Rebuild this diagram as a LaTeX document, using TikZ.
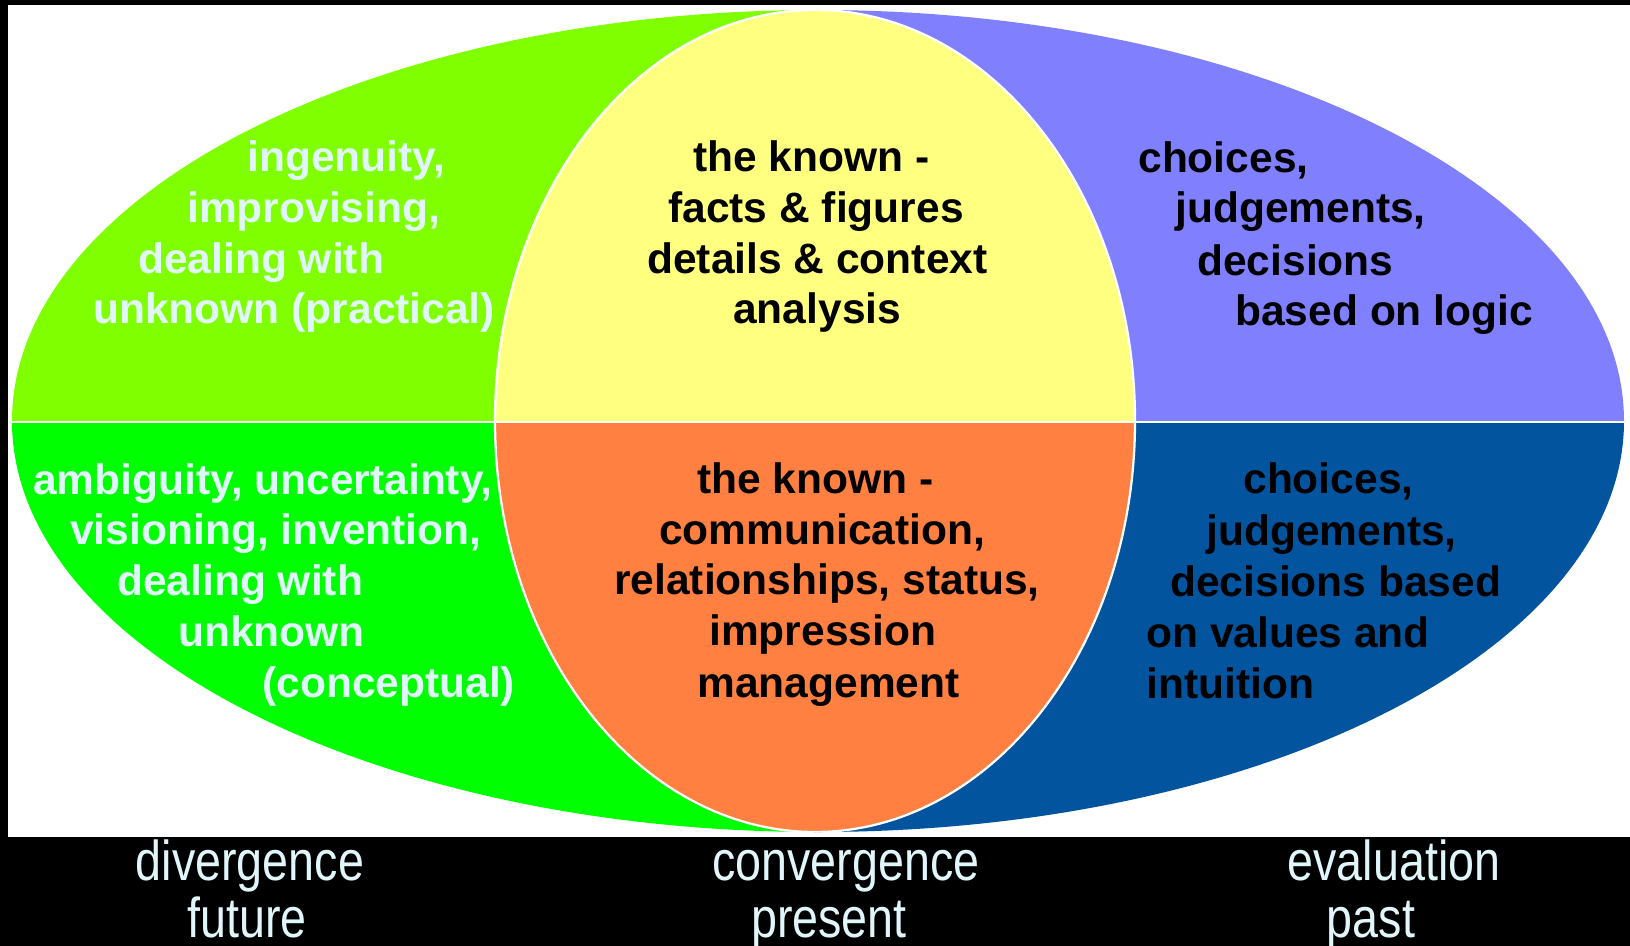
\documentclass[tikz,border=0pt]{standalone}
\usepackage{fontspec}
\setmainfont{Liberation Sans}
\newfontfamily\labelfont[FakeStretch=0.83]{Liberation Sans}
\usepackage{tikz}

\definecolor{futuretop}{RGB}{128,255,0}
\definecolor{futurebot}{RGB}{0,255,0}
\definecolor{presenttop}{RGB}{255,255,128}
\definecolor{presentbot}{RGB}{255,128,64}
\definecolor{pasttop}{RGB}{128,128,255}
\definecolor{pastbot}{RGB}{2,84,158}
\definecolor{paletext}{RGB}{224,246,250}

\def\blocktext{\bfseries\fontsize{24.2pt}{28pt}\selectfont}

\begin{document}
\begin{tikzpicture}[x=0.02cm, y=-0.02cm,
		paleline/.style={anchor=base west, inner sep=0pt, text=paletext, font=\blocktext},
		darkline/.style={paleline, text=black},
		timeline/.style={anchor=base, inner sep=0pt, text=paletext, font=\labelfont\fontsize{32pt}{36pt}\selectfont},
		divider/.style={draw=white, line width=1.3pt}]
			%%%%% START %%%%%
			\useasboundingbox (0,0) rectangle (1630,946);
			\fill[black] (0,0) rectangle (1630,946);
			\fill[white] (8,5) rectangle (1630,837);
			
			\begin{scope}
				\clip (818,421) ellipse [x radius=806, y radius=411];
				\fill[futuretop] (0,0) rectangle (818,422);
				\fill[futurebot] (0,422) rectangle (818,840);
				\fill[pasttop] (818,0) rectangle (1630,422);
				\fill[pastbot] (818,422) rectangle (1630,840);
				\begin{scope}
					\clip (815,421) ellipse [x radius=320, y radius=411];
					\fill[presenttop] (0,0) rectangle (1630,422);
					\fill[presentbot] (0,422) rectangle (1630,840);
				\end{scope}
				\draw[divider] (815,421) ellipse [x radius=320, y radius=411];
				\draw[divider] (0,422) -- (1630,422);
			\end{scope}
			
			% future, top and bottom
			\foreach \px/\py/\txt [count=\i] in {247/172/{ingenuity,}, 187/222/{improvising,}, 138/273/{dealing with}, 93/323/{unknown (practical)}}
				\node[paleline] (ftop\i) at (\px,\py) {\txt};
			\foreach \px/\py/\txt [count=\i] in {33/494/{ambiguity, uncertainty,}, 70/544/{visioning, invention,}, 117/595/{dealing with}, 178/646/{unknown}, 262/697/{(conceptual)}}
				\node[paleline] (fbot\i) at (\px,\py) {\txt};
			
			% present, top and bottom
			\foreach \px/\py/\txt [count=\i] in {693/172/{the known -}, 668/222/{facts \& figures}, 647/273/{details \& context}, 733/323/{analysis}}
				\node[darkline] (ptop\i) at (\px,\py) {\txt};
			\foreach \px/\py/\txt [count=\i] in {697/493/{the known -}, 659/544/{communication,}, 614/594/{relationships, status,}, 709/645/{impression}, 697/697/{management}}
				\node[darkline] (pbot\i) at (\px,\py) {\txt};
			
			% past, top and bottom
			\foreach \px/\py/\txt [count=\i] in {1138/173/{choices,}, 1175/222/{judgements,}, 1197/275/{decisions}, 1235/325/{based on logic}}
				\node[darkline] (etop\i) at (\px,\py) {\txt};
			\foreach \px/\py/\txt [count=\i] in {1243/493/{choices,}, 1206/545/{judgements,}, 1170/596/{decisions based}, 1146/647/{on values and}, 1146/698/{intuition}}
				\node[darkline] (ebot\i) at (\px,\py) {\txt};
			
			% time labels
			\node[timeline] (div) at (250,880) {divergence};
			\node[timeline] (fut) at (247,937) {future};
			\node[timeline] (conv) at (846,880) {convergence};
			\node[timeline] (pres) at (829,937) {present};
			\node[timeline] (eval) at (1394,880) {evaluation};
			\node[timeline] (past) at (1371,937) {past};
			%%%%% END %%%%%
\end{tikzpicture}
\end{document}
